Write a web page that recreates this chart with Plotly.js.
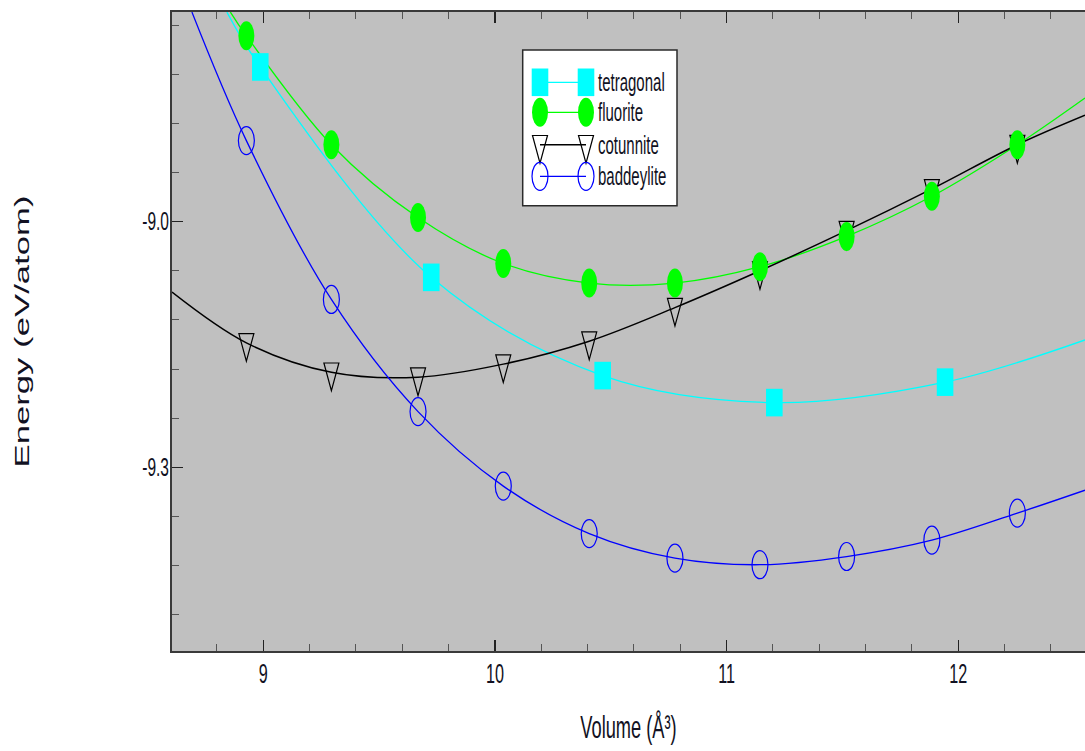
<!DOCTYPE html>
<html>
<head>
<meta charset="utf-8">
<script src="https://cdn.plot.ly/plotly-3.0.1.min.js"></script>
<style>
  html, body { margin: 0; padding: 0; background: #fff; overflow: hidden; }
  #chart { width: 1085px; height: 751px; }
</style>
</head>
<body>
<div id="chart"></div>
<script>
// Total energy per atom against volume for four ZrO2 polymorphs

const seriesNames = ['tetragonal', 'fluorite', 'cotunnite', 'baddeylite'];

const volumeTetragonal = [8.987, 9.725, 10.465, 11.206, 11.943];
const energyTetragonal = [-8.811, -9.068, -9.188, -9.221, -9.196];

const volumeShared = [8.927, 9.294, 9.668, 10.036, 10.407, 10.777, 11.144, 11.518, 11.886, 12.255];
const energyFluorite = [-8.773, -8.906, -8.995, -9.051, -9.075, -9.075, -9.055, -9.018, -8.969, -8.906];
const energyCotunnite = [-9.148, -9.184, -9.190, -9.174, -9.146, -9.105, -9.060, -9.011, -8.960, -8.906];
const energyBaddeylite = [-8.901, -9.095, -9.232, -9.323, -9.381, -9.411, -9.419, -9.409, -9.389, -9.356];

// Points where each fitted curve leaves the frame (first, last)
const curveEndsTetragonalX = [8.843, 12.547];
const curveEndsTetragonalY = [-8.744, -9.1445];
const curveEndsFluoriteX = [8.858, 12.547];
const curveEndsFluoriteY = [-8.744, -8.849];
const curveEndsCotunniteX = [8.606, 12.547];
const curveEndsCotunniteY = [-9.086, -8.870];
const curveEndsBaddeyliteX = [8.692, 12.547];
const curveEndsBaddeyliteY = [-8.744, -9.328];

const xTickVals = [9, 10, 11, 12];
const xTickText = ['9', '10', '11', '12'];
const yTickVals = [-9.0, -9.3];
const yTickText = ['-9.0', '-9.3'];

// ---- layout geometry ----
const W = 1085, H = 751;
const margin = { l: 172, r: 0, t: 12, b: 100 };
const plotW = W - margin.l - margin.r;
const plotH = H - margin.t - margin.b;
const px2paperX = p => (p - margin.l) / plotW;
const px2paperY = p => (H - margin.b - p) / plotH;

const sans = '"Liberation Sans", Arial, sans-serif';
const textColor = '#111122';

const styles = [
  { color: '#00FFFF', kind: 'square' },
  { color: '#00FF00', kind: 'disc' },
  { color: '#000000', kind: 'tri' },
  { color: '#0000FF', kind: 'ring' }
];

const markerX = [volumeTetragonal, volumeShared, volumeShared, volumeShared];
const markerY = [energyTetragonal, energyFluorite, energyCotunnite, energyBaddeylite];
const endsX = [curveEndsTetragonalX, curveEndsFluoriteX, curveEndsCotunniteX, curveEndsBaddeyliteX];
const endsY = [curveEndsTetragonalY, curveEndsFluoriteY, curveEndsCotunniteY, curveEndsBaddeyliteY];

// Fitted curves: smooth line through the computed points, running to the frame
const traces = seriesNames.map((name, i) => ({
  type: 'scatter',
  mode: 'lines',
  name: name,
  x: [endsX[i][0]].concat(markerX[i], [endsX[i][1]]),
  y: [endsY[i][0]].concat(markerY[i], [endsY[i][1]]),
  line: { color: styles[i].color, width: i === 2 ? 1.5 : 1.3, shape: 'spline', smoothing: 1 },
  hoverinfo: 'x+y+name',
  showlegend: false
}));

// Symbols are taller than wide, so they are drawn as pixel-sized shapes
function symbol(kind, color, xref, yref, x, y) {
  const base = { xref: xref, yref: yref, xsizemode: 'pixel', ysizemode: 'pixel',
                 xanchor: x, yanchor: y, layer: 'above' };
  if (kind === 'square') {
    return Object.assign(base, { type: 'rect', x0: -8.3, x1: 8.3, y0: -13.8, y1: 13.8,
                                 fillcolor: color, line: { width: 0 } });
  }
  if (kind === 'disc') {
    return Object.assign(base, { type: 'circle', x0: -8, x1: 8, y0: -14.5, y1: 14.5,
                                 fillcolor: color, line: { width: 0 } });
  }
  if (kind === 'ring') {
    return Object.assign(base, { type: 'circle', x0: -8, x1: 8, y0: -14, y1: 14,
                                 fillcolor: 'rgba(0,0,0,0)', line: { color: color, width: 1.2 } });
  }
  return Object.assign(base, { type: 'path', path: 'M-7.5,9.3 L7.5,9.3 L0,-18.4 Z',
                               fillcolor: 'rgba(0,0,0,0)', line: { color: color, width: 1.2 } });
}

const shapes = [];
// draw order: cotunnite, baddeylite, tetragonal, fluorite
[2, 3, 0, 1].forEach(i => {
  markerX[i].forEach((v, k) => {
    shapes.push(symbol(styles[i].kind, styles[i].color, 'x', 'y', v, markerY[i][k]));
  });
});

// ---- legend box ----
const legendBox = { left: 522.7, right: 677, top: 50, bottom: 205.7 };
const legendRows = [82.3, 112.3, 144.8, 176.3];
const legendSymLeft = 540, legendSymRight = 586, legendTextX = 596;

shapes.push({
  type: 'rect', xref: 'paper', yref: 'paper', layer: 'above',
  x0: px2paperX(legendBox.left), x1: px2paperX(legendBox.right),
  y0: px2paperY(legendBox.bottom), y1: px2paperY(legendBox.top),
  fillcolor: '#FFFFFF', line: { color: '#2a2a2a', width: 1.5 }
});

const annotations = [];
seriesNames.forEach((name, i) => {
  const yp = px2paperY(legendRows[i]);
  shapes.push({
    type: 'line', xref: 'paper', yref: 'paper', layer: 'above',
    x0: px2paperX(legendSymLeft), x1: px2paperX(legendSymRight), y0: yp, y1: yp,
    line: { color: styles[i].color, width: i === 2 ? 1.5 : 1.3 }
  });
  [legendSymLeft, legendSymRight].forEach(sx => {
    shapes.push(symbol(styles[i].kind, styles[i].color, 'paper', 'paper', px2paperX(sx), yp));
  });
  annotations.push({
    xref: 'paper', yref: 'paper', x: px2paperX(legendTextX), y: yp,
    xanchor: 'left', yanchor: 'middle', align: 'left', showarrow: false, text: name,
    font: { family: sans, size: 25, color: textColor }
  });
});

const layout = {
  width: W, height: H,
  margin: margin,
  paper_bgcolor: '#FFFFFF',
  plot_bgcolor: '#C0C0C0',
  showlegend: false,
  xaxis: {
    range: [8.606, 12.547],
    tickmode: 'array', tickvals: xTickVals, ticktext: xTickText,
    ticks: 'inside', ticklen: 11, tickwidth: 1.2, tickcolor: '#222',
    minor: { ticks: 'inside', ticklen: 7, tickwidth: 1, tickcolor: '#555', dtick: 0.2, tick0: 9, showgrid: false },
    showgrid: false, zeroline: false,
    showline: true, linecolor: '#3a3a3a', linewidth: 2, mirror: 'ticks',
    tickfont: { family: sans, size: 27, color: textColor },
    ticklabelstandoff: -2,
    title: { text: 'Volume (Å³)', font: { family: sans, size: 32, color: textColor }, standoff: 27 },
    automargin: false,
    fixedrange: true
  },
  yaxis: {
    range: [-9.5244, -8.7439],
    tickmode: 'array', tickvals: yTickVals, ticktext: yTickText,
    ticks: 'inside', ticklen: 11, tickwidth: 1.2, tickcolor: '#222',
    minor: { ticks: 'inside', ticklen: 7, tickwidth: 1, tickcolor: '#555', dtick: 0.06, tick0: -9.0, showgrid: false },
    showgrid: false, zeroline: false,
    showline: true, linecolor: '#3a3a3a', linewidth: 2, mirror: false,
    tickfont: { family: sans, size: 25, color: textColor },
    ticklabelstandoff: -4,
    title: { text: 'Energy (eV/atom)', font: { family: sans, size: 19.5, color: textColor }, standoff: 91 },
    automargin: false,
    fixedrange: true
  },
  shapes: shapes,
  annotations: annotations
};

// Text in this figure is drawn tall and narrow (and the vertical title long and wide):
// adjust each label's advance width while keeping its glyph height.
function setTextWidth(selector, factor) {
  document.querySelectorAll('#chart ' + selector).forEach(t => {
    const w = t.getComputedTextLength();
    if (w > 0) {
      t.setAttribute('textLength', (w * factor).toFixed(2));
      t.setAttribute('lengthAdjust', 'spacingAndGlyphs');
    }
  });
}

Plotly.newPlot('chart', traces, layout, { displayModeBar: false, staticPlot: true }).then(() => {
  setTextWidth('.xtick text', 0.6);
  setTextWidth('.ytick text', 0.62);
  setTextWidth('text.annotation-text', 0.6);
  setTextWidth('text.xtitle', 0.57);
  setTextWidth('text.ytitle', 1.78);
});
</script>
</body>
</html>
